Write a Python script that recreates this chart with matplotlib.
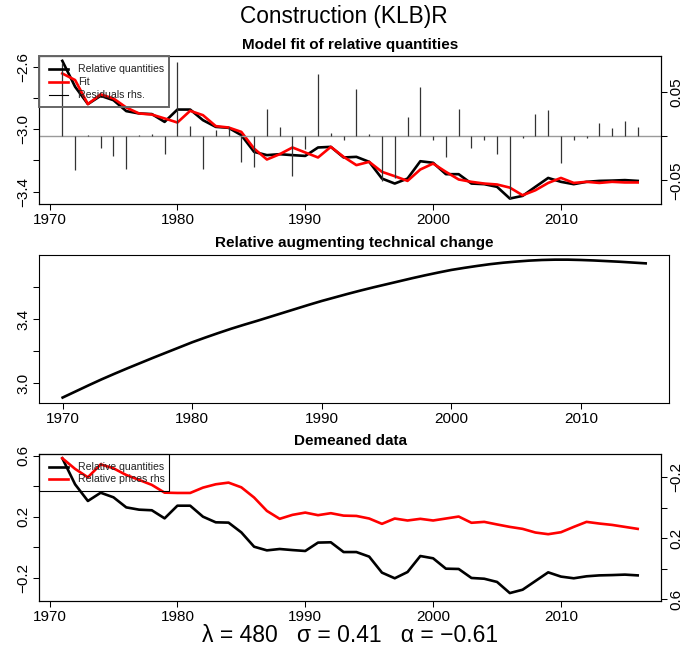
import matplotlib
matplotlib.use('Agg')
import matplotlib.pyplot as plt
from matplotlib.lines import Line2D
from matplotlib.patches import Rectangle

plt.rcParams['font.family'] = ['Liberation Sans', 'DejaVu Sans']

# ---------------- data ----------------
years = list(range(1971, 2017))

rel_quantities = [-2.562, -2.728, -2.839, -2.786, -2.814, -2.884, -2.899, -2.903, -2.953, -2.874,
                  -2.874, -2.942, -2.985, -2.991, -3.038, -3.145, -3.166, -3.160, -3.166, -3.171,
                  -3.117, -3.113, -3.181, -3.177, -3.209, -3.316, -3.348, -3.316, -3.205, -3.215,
                  -3.288, -3.288, -3.348, -3.352, -3.369, -3.444, -3.427, -3.369, -3.312, -3.337,
                  -3.352, -3.337, -3.331, -3.329, -3.326, -3.331]

fit = [-2.643, -2.685, -2.839, -2.777, -2.803, -2.861, -2.899, -2.906, -2.931, -2.957,
       -2.882, -2.910, -2.980, -2.989, -3.017, -3.124, -3.194, -3.160, -3.117, -3.149,
       -3.181, -3.113, -3.177, -3.230, -3.209, -3.273, -3.301, -3.331, -3.258, -3.220,
       -3.273, -3.322, -3.337, -3.348, -3.354, -3.374, -3.423, -3.391, -3.344, -3.312,
       -3.344, -3.337, -3.344, -3.337, -3.341, -3.341]

residuals = [0.082, -0.038, 0.001, -0.013, -0.022, -0.037, 0.001, 0.002, -0.020, 0.084,
             0.011, -0.037, 0.007, 0.010, -0.029, -0.035, 0.031, 0.010, -0.045, -0.015,
             0.070, 0.003, -0.005, 0.053, 0.002, -0.051, -0.047, 0.021, 0.055, -0.004,
             -0.024, 0.031, -0.014, -0.005, -0.020, -0.071, -0.002, 0.025, 0.029, -0.031,
             -0.005, -0.002, 0.015, 0.009, 0.017, 0.010]

tech_years = list(range(1970, 2016))
tech_change = [2.911, 2.949, 2.987, 3.024, 3.059, 3.093, 3.126, 3.159, 3.191, 3.223,
               3.255, 3.284, 3.312, 3.339, 3.364, 3.388, 3.413, 3.438, 3.463, 3.488,
               3.512, 3.534, 3.556, 3.577, 3.597, 3.616, 3.635, 3.654, 3.672, 3.689,
               3.705, 3.718, 3.730, 3.741, 3.750, 3.757, 3.763, 3.767, 3.769, 3.769,
               3.767, 3.764, 3.760, 3.756, 3.751, 3.746]

demeaned_quantities = [0.583, 0.412, 0.303, 0.357, 0.327, 0.261, 0.246, 0.242, 0.189, 0.272,
                       0.272, 0.200, 0.163, 0.161, 0.097, 0.003, -0.021, -0.012, -0.019, -0.025,
                       0.030, 0.032, -0.032, -0.032, -0.062, -0.167, -0.204, -0.163, -0.058, -0.073,
                       -0.141, -0.143, -0.202, -0.207, -0.228, -0.301, -0.279, -0.222, -0.165, -0.193,
                       -0.204, -0.191, -0.185, -0.183, -0.180, -0.185]

demeaned_prices = [-0.325, -0.255, -0.200, -0.285, -0.259, -0.215, -0.183, -0.150, -0.099, -0.097,
                   -0.097, -0.132, -0.154, -0.165, -0.134, -0.067, 0.021, 0.073, 0.047, 0.032,
                   0.049, 0.036, 0.052, 0.054, 0.071, 0.106, 0.071, 0.084, 0.073, 0.084,
                   0.071, 0.058, 0.099, 0.093, 0.110, 0.126, 0.139, 0.163, 0.174, 0.161,
                   0.126, 0.093, 0.104, 0.113, 0.126, 0.139]

x_ticks = [1970, 1980, 1990, 2000, 2010]

title = 'Construction (KLB)R'
subtitles = ['Model fit of relative quantities', 'Relative augmenting technical change', 'Demeaned data']
params_text = 'λ = 480   σ = 0.41   α = −0.61'

# ---------------- layout ----------------
W, H = 688, 651
fig = plt.figure(figsize=(W / 100, H / 100), dpi=100)


def rect(l, t, r, b):
    return [l / W, 1 - b / H, (r - l) / W, (b - t) / H]


def fx(x):
    return x / W


def fy(y):
    return 1 - y / H


TICK = 4.3
FS = 11


def style_axes(ax):
    for s in ax.spines.values():
        s.set_linewidth(0.8)
        s.set_color('black')
    ax.tick_params(direction='out', length=TICK, width=0.75, labelsize=FS, colors='black')


def set_x(ax, pad=2.4):
    ax.set_xticks(x_ticks)
    ax.set_xticklabels([str(t) for t in x_ticks])
    ax.tick_params(axis='x', pad=pad)


def set_left(ax, ticks, labels):
    ax.set_yticks(ticks)
    ax.set_yticklabels(labels, rotation=90, va='center')
    ax.tick_params(axis='y', pad=2.0)


def set_right(ax, ticks, labels):
    ax.set_yticks(ticks)
    ax.set_yticklabels(labels, rotation=90, va='center')
    ax.tick_params(axis='y', pad=1.6)


def r_legend(box, entries, edgecolor, edgelw):
    l, t, r, b = box
    fig.add_artist(Rectangle((fx(l), fy(b)), (r - l) / W, (b - t) / H, transform=fig.transFigure,
                             fill=False, edgecolor=edgecolor, linewidth=edgelw, zorder=10))
    for y, label, color, lw in entries:
        fig.add_artist(Line2D([fx(49), fx(68.3)], [fy(y), fy(y)], color=color, linewidth=lw,
                              transform=fig.transFigure, zorder=10))
        fig.text(fx(77.7), fy(y), label, fontsize=7.6, va='center', ha='left', color='#222222', zorder=10)


# ---- panel 1 ----
ax1 = fig.add_axes(rect(39.3, 56, 660.7, 204))
ax1.plot(years, rel_quantities, color='black', lw=1.9, zorder=3)
ax1.plot(years, fit, color='red', lw=1.9, zorder=4)
ax1.set_xlim(1969.2, 2017.8)
ax1.set_ylim(-3.479, -2.531)
style_axes(ax1)
set_x(ax1)
set_left(ax1, [-3.4, -3.2, -3.0, -2.8, -2.6], ['−3.4', '', '−3.0', '', '−2.6'])

ax1r = ax1.twinx()
ax1r.axhline(0, color='#9a9a9a', lw=1.0, zorder=1)
ax1r.vlines(years, 0, residuals, color='#333333', lw=0.9, zorder=2)
ax1r.set_ylim(-0.0767, 0.0903)
ax1r.set_xlim(1969.2, 2017.8)
style_axes(ax1r)
set_right(ax1r, [-0.05, 0.0, 0.05], ['−0.05', '', '0.05'])

r_legend((39.3, 56, 169, 106.7),
         [(69.3, 'Relative quantities', 'black', 1.9),
          (82.3, 'Fit', 'red', 1.9),
          (95.0, 'Residuals rhs.', 'black', 0.8)],
         '#666666', 1.4)

# ---- panel 2 ----
ax2 = fig.add_axes(rect(39.3, 255, 669, 402.7))
ax2.plot(tech_years, tech_change, color='black', lw=1.9)
ax2.set_xlim(1968.2, 2016.8)
ax2.set_ylim(2.879, 3.798)
style_axes(ax2)
set_x(ax2)
set_left(ax2, [3.0, 3.2, 3.4, 3.6], ['3.0', '', '3.4', ''])

# ---- panel 3 ----
ax3 = fig.add_axes(rect(39.3, 454, 660.7, 601))
ax3.plot(years, demeaned_quantities, color='black', lw=1.9, zorder=3)
ax3.set_xlim(1969.2, 2017.8)
ax3.set_ylim(-0.353, 0.611)
style_axes(ax3)
set_x(ax3, pad=2.0)
set_left(ax3, [-0.2, 0.0, 0.2, 0.4, 0.6], ['−0.2', '', '0.2', '', '0.6'])

ax3r = ax3.twinx()
ax3r.plot(years, demeaned_prices, color='red', lw=1.9)
ax3r.set_ylim(0.613, -0.353)
ax3r.set_xlim(1969.2, 2017.8)
style_axes(ax3r)
set_right(ax3r, [-0.2, 0.0, 0.2, 0.4, 0.6], ['−0.2', '', '0.2', '', '0.6'])

r_legend((39.3, 454, 169.3, 491.3),
         [(466.7, 'Relative quantities', 'black', 1.9),
          (479.0, 'Relative prices rhs', 'red', 1.9)],
         'black', 0.8)

# ---- texts ----
fig.text(0.5, fy(16), title, fontsize=16.3, ha='center', va='center')
fig.text(fx(350), fy(45), subtitles[0], fontsize=FS, fontweight='bold', ha='center', va='center')
fig.text(fx(354), fy(243), subtitles[1], fontsize=FS, fontweight='bold', ha='center', va='center')
fig.text(fx(350), fy(441), subtitles[2], fontsize=FS, fontweight='bold', ha='center', va='center')
fig.text(fx(350), fy(636), params_text, fontsize=16.5, ha='center', va='center')

fig.savefig('out.png', dpi=100)
